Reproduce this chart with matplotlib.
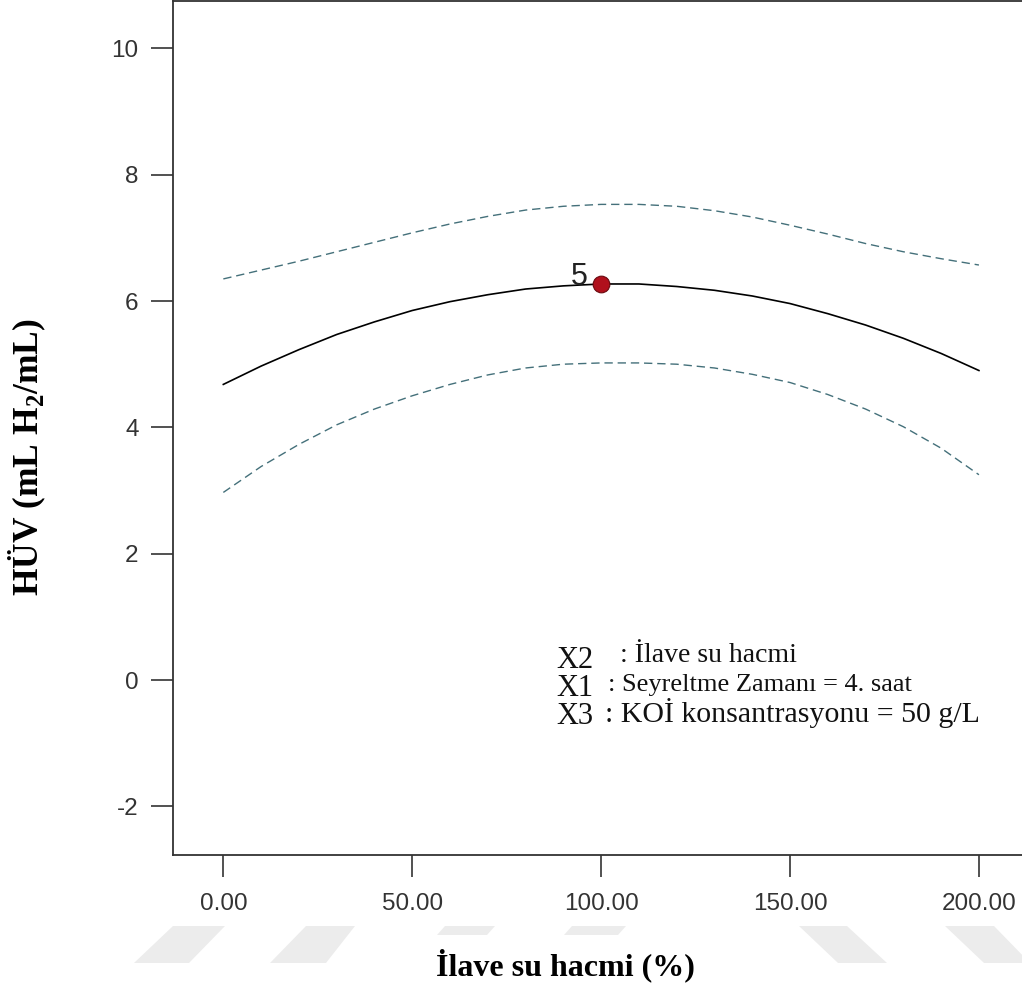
import matplotlib
matplotlib.use("Agg")
import matplotlib.pyplot as plt
from matplotlib.patches import Polygon

plt.rcParams['mathtext.fontset'] = 'custom'
plt.rcParams['mathtext.rm'] = 'Liberation Serif:bold'
plt.rcParams['mathtext.bf'] = 'Liberation Serif:bold'

# ---- data ----
x_vals = [0, 10, 20, 30, 40, 50, 60, 70, 80, 90, 100,
          110, 120, 130, 140, 150, 160, 170, 180, 190, 200]
y_pred = [4.68, 4.97, 5.23, 5.47, 5.67, 5.85, 5.99, 6.10, 6.19, 6.24, 6.27,
          6.27, 6.23, 6.17, 6.08, 5.96, 5.80, 5.62, 5.41, 5.17, 4.90]
y_upper = [6.35, 6.49, 6.63, 6.78, 6.93, 7.08, 7.22, 7.34, 7.44, 7.50, 7.53,
           7.53, 7.50, 7.43, 7.33, 7.20, 7.06, 6.91, 6.78, 6.67, 6.57]
y_lower = [2.97, 3.38, 3.73, 4.04, 4.29, 4.50, 4.68, 4.83, 4.94, 5.00, 5.02,
           5.02, 5.00, 4.94, 4.84, 4.71, 4.52, 4.29, 4.01, 3.67, 3.25]
design_x = [100]
design_y = [6.27]
design_label = "5"
x_ticks = [0, 50, 100, 150, 200]
x_ticklabels = ["0.00", "50.00", "100.00", "150.00", "200.00"]
y_ticks = [-2, 0, 2, 4, 6, 8, 10]
y_ticklabels = ["-2", "0", "2", "4", "6", "8", "10"]
info_keys = ["X2", "X1", "X3"]
info_texts = [": İlave su hacmi", ": Seyreltme Zamanı = 4. saat",
              ": KOİ konsantrasyonu = 50 g/L"]

W, H = 1022, 989
fig = plt.figure(figsize=(W / 100, H / 100), dpi=100)

# watermark shapes (background decoration)
wm = [
    [(134, 963), (189, 963), (225, 926), (173, 926)],
    [(270, 963), (326, 963), (355, 926), (306, 926)],
    [(437, 935), (487, 935), (495, 926), (445, 926)],
    [(564, 935), (618, 935), (626, 926), (572, 926)],
    [(838, 963), (887, 963), (847, 926), (799, 926)],
    [(984, 963), (1030, 963), (994, 926), (945, 926)],
]
for poly in wm:
    pts = [(px / W, 1 - py / H) for px, py in poly]
    fig.patches.append(Polygon(pts, closed=True, transform=fig.transFigure,
                               facecolor='#ececec', edgecolor='none', zorder=0))

ax = fig.add_axes([172.7 / W, 1 - 855 / H, (W - 172.7) / W, 855 / H - 0.001])
ax.set_facecolor('none')

ax.plot(x_vals, y_pred, color='black', lw=1.2, zorder=3)
ax.plot(x_vals, y_upper, color='#44707a', lw=1.0, ls=(0, (6, 3.5)), zorder=3)
ax.plot(x_vals, y_lower, color='#44707a', lw=1.0, ls=(0, (6, 3.5)), zorder=3)

ax.plot(design_x, design_y, 'o', ms=12, mfc='#b0101c', mec='#6a0a10', mew=0.8, zorder=4)
ax.annotate(design_label, (design_x[0], design_y[0]), xytext=(-10, 5),
            textcoords='offset points', ha='right', va='center',
            fontsize=22, family='Liberation Sans', color='#222222', zorder=5)

ax.set_xlim(-13.4, 211.4)
ax.set_ylim(-2.77, 10.75)
ax.set_xticks(x_ticks)
ax.set_xticklabels(x_ticklabels)
ax.set_yticks(y_ticks)
ax.set_yticklabels(y_ticklabels)

for s in ['left', 'bottom', 'top']:
    ax.spines[s].set_color('#333333')
    ax.spines[s].set_linewidth(1.3)
ax.spines['right'].set_visible(False)

ax.tick_params(axis='both', direction='out', length=16, width=1.2, color='#333333',
               labelsize=17.5, labelcolor='#333333')
ax.tick_params(axis='x', pad=11)
ax.tick_params(axis='y', pad=8.5)
for lab in ax.get_xticklabels() + ax.get_yticklabels():
    lab.set_family('Liberation Sans')

# info text block (positions are centres in pixels)
key_pos = [(556, 661), (556, 689), (556, 717)]
txt_pos = [(620, 656), (608, 685), (605, 713)]
txt_sizes = [20, 19, 21.5]
for k, t, (kx, ky), (tx, ty), fs in zip(info_keys, info_texts, key_pos, txt_pos, txt_sizes):
    fig.text(kx / W, 1 - ky / H, k, family='Liberation Serif', fontsize=22,
             ha='left', va='center', color='#111111')
    fig.text(tx / W, 1 - ty / H, t, family='Liberation Serif', fontsize=fs,
             ha='left', va='center', color='#111111')

# axis titles
fig.text(565 / W, 1 - 965 / H, "İlave su hacmi (%)", family='Liberation Serif',
         weight='bold', fontsize=23, ha='center', va='center')
fig.text(27 / W, 1 - 457 / H, r"HÜV (mL H$_\mathbf{2}$/mL)", family='Liberation Serif',
         weight='bold', fontsize=25.5, ha='center', va='center', rotation=90)

fig.savefig('out.png', dpi=100)
